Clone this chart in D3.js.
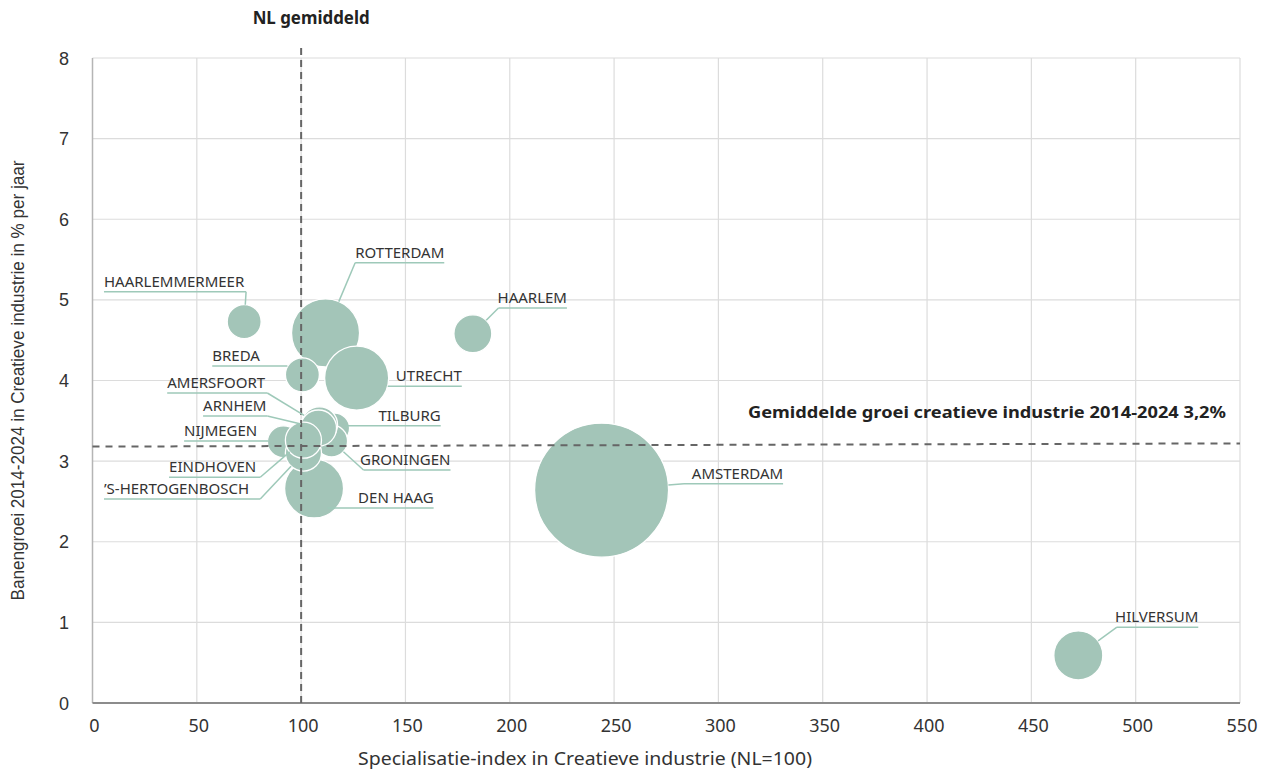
<!DOCTYPE html>
<html><head><meta charset="utf-8">
<script src="https://cdn.jsdelivr.net/npm/d3@7/dist/d3.min.js"></script>
<style>
html,body{margin:0;padding:0;background:#fff;}
svg{display:block;}
</style></head>
<body>
<svg id="chart" width="1263" height="770"></svg>
<script>
// ---- data ----
const cities = ["AMSTERDAM","ROTTERDAM","UTRECHT","DEN HAAG","HILVERSUM","HAARLEM","HAARLEMMERMEER","BREDA","TILBURG","GRONINGEN","AMERSFOORT","ARNHEM","NIJMEGEN","’S-HERTOGENBOSCH","EINDHOVEN"];
const specIndex = [244.0, 111.7, 126.6, 106.2, 472.5, 182.3, 72.7, 100.6, 116.0, 114.6, 108.8, 108.3, 91.5, 101.1, 101.1];
const growth    = [2.64, 4.59, 4.03, 2.66, 0.59, 4.58, 4.73, 4.07, 3.41, 3.25, 3.45, 3.41, 3.24, 3.10, 3.26];
const jobs      = [95000, 24500, 21700, 18400, 12700, 7600, 6100, 6100, 4800, 5400, 6900, 6900, 5400, 6900, 6900];
const xTicks = [0,50,100,150,200,250,300,350,400,450,500,550];
const yTicks = [0,1,2,3,4,5,6,7,8];
const nlAverage = 100;
const avgGrowthLine = [3.18, 3.22];   // start/end of dashed average line
const avgGrowthLabel = "Gemiddelde groei creatieve industrie 2014-2024 3,2%";
const nlLabel = "NL gemiddeld";
const xTitle = "Specialisatie-index in Creatieve industrie (NL=100)";
const yTitle = "Banengroei 2014-2024 in Creatieve industrie  in % per jaar";

// label layout (data units): underline from x1 to x2 at y; side = where the text sits
const labelLayout = {
  "HAARLEMMERMEER":   {x1:5.5,   x2:73.6,  y:5.10, side:"left"},
  "ROTTERDAM":        {x1:125.9, x2:168.6, y:5.46, side:"right"},
  "BREDA":            {x1:57.4,  x2:93.4,  y:4.18, side:"left"},
  "UTRECHT":          {x1:141.5, x2:177.0, y:3.93, side:"right"},
  "AMERSFOORT":       {x1:35.8,  x2:83.8,  y:3.845,side:"left"},
  "ARNHEM":           {x1:53.0,  x2:83.8,  y:3.56, side:"left"},
  "TILBURG":          {x1:121.3, x2:166.9, y:3.44, side:"right"},
  "NIJMEGEN":         {x1:43.9,  x2:84.3,  y:3.25, side:"left"},
  "GRONINGEN":        {x1:129.9, x2:171.6, y:2.89, side:"right"},
  "EINDHOVEN":        {x1:36.7,  x2:80.4,  y:2.80, side:"left"},
  "’S-HERTOGENBOSCH": {x1:5.5,   x2:80.4,  y:2.53, side:"left"},
  "DEN HAAG":         {x1:112.6, x2:163.5, y:2.42, side:"right"},
  "HAARLEM":          {x1:194.6, x2:227.4, y:4.90, side:"right"},
  "AMSTERDAM":        {x1:283.5, x2:331.0, y:2.72, side:"right"},
  "HILVERSUM":        {x1:491.0, x2:530.0, y:0.94, side:"right"}
};

// ---- layout ----
const svg = d3.select("#chart");
const W = 1263, H = 770;
const m = {left:92.5, top:58, right:W-1240, bottom:H-703};
const x = d3.scaleLinear().domain([0,550]).range([m.left, W - m.right]);
const y = d3.scaleLinear().domain([0,8]).range([H - m.bottom, m.top]);
const r = d3.scaleSqrt().domain([0, d3.max(jobs)]).range([0, 67]);

const fill = "#a3c5b8", leader = "#9ec9b9", txt = "#333";

// gridlines
svg.append("g").selectAll("line").data(xTicks.filter(d=>d>0)).join("line")
  .attr("x1", d=>x(d)).attr("x2", d=>x(d)).attr("y1", y(0)).attr("y2", y(8))
  .attr("stroke", "#dcdcdc").attr("stroke-width", 1.2);
svg.append("g").selectAll("line").data(yTicks.filter(d=>d>0)).join("line")
  .attr("x1", x(0)).attr("x2", x(550)).attr("y1", d=>y(d)).attr("y2", d=>y(d))
  .attr("stroke", "#dcdcdc").attr("stroke-width", 1.2);

// axes lines
svg.append("line").attr("x1", x(0)).attr("x2", x(0)).attr("y1", y(0)).attr("y2", y(8))
  .attr("stroke", "#b5b5b5").attr("stroke-width", 1.5);
svg.append("line").attr("x1", x(0)).attr("x2", x(550)).attr("y1", y(0)).attr("y2", y(0))
  .attr("stroke", "#8c8c8c").attr("stroke-width", 2);

// tick labels
svg.append("g").selectAll("text").data(xTicks).join("text")
  .attr("x", d=>x(d) + 2).attr("y", y(0) + 29)
  .attr("text-anchor", "middle").attr("fill", txt)
  .style("font", "18px 'Noto Sans', sans-serif").text(d=>d);
svg.append("g").selectAll("text").data(yTicks).join("text")
  .attr("x", 69).attr("y", d=>y(d) + 6.5)
  .attr("text-anchor", "end").attr("fill", txt)
  .style("font", "18px 'Liberation Sans', Arial, sans-serif").text(d=>d);

// axis titles
svg.append("text").attr("x", 585).attr("y", 765)
  .attr("text-anchor", "middle").attr("fill", txt)
  .attr("textLength", 454).attr("lengthAdjust", "spacingAndGlyphs")
  .style("font", "18.5px 'Noto Sans', sans-serif").text(xTitle);
svg.append("text").attr("transform", `translate(24,${(y(0)+y(8))/2}) rotate(-90)`)
  .attr("text-anchor", "middle").attr("fill", txt)
  .attr("textLength", 440).attr("lengthAdjust", "spacingAndGlyphs")
  .style("font", "17.5px 'Liberation Sans', Arial, sans-serif").text(yTitle);

// bubbles
const data = cities.map((c,i)=>({name:c, x:specIndex[i], y:growth[i], v:jobs[i]}));
svg.append("g").selectAll("circle").data(data).join("circle")
  .attr("cx", d=>x(d.x)).attr("cy", d=>y(d.y)).attr("r", d=>r(d.v))
  .attr("fill", fill).attr("stroke", "#fff").attr("stroke-width", 1.3);

// reference lines
svg.append("line").attr("x1", x(nlAverage)).attr("x2", x(nlAverage))
  .attr("y1", y(0)).attr("y2", 44)
  .attr("stroke", "#666").attr("stroke-width", 2).attr("stroke-dasharray", "7,5");
svg.append("line").attr("x1", x(0)).attr("x2", x(550))
  .attr("y1", y(avgGrowthLine[0])).attr("y2", y(avgGrowthLine[1]))
  .attr("stroke", "#666").attr("stroke-width", 2).attr("stroke-dasharray", "7,6");
svg.append("text").attr("x", x(nlAverage) + 10).attr("y", 24)
  .attr("text-anchor", "middle").attr("fill", "#222")
  .attr("textLength", 117).attr("lengthAdjust", "spacingAndGlyphs")
  .style("font", "bold 17px 'Noto Sans', sans-serif").text(nlLabel);
svg.append("text").attr("x", 748).attr("y", 418)
  .attr("text-anchor", "start").attr("fill", "#222")
  .attr("textLength", 478).attr("lengthAdjust", "spacingAndGlyphs")
  .style("font", "bold 16.5px 'Noto Sans', sans-serif").text(avgGrowthLabel);

// labels with leaders
const lg = svg.append("g");
data.forEach(d=>{
  const L = labelLayout[d.name]; if(!L) return;
  const ux1 = x(L.x1), ux2 = x(L.x2), uy = y(L.y);
  lg.append("line").attr("x1", ux1).attr("x2", ux2).attr("y1", uy).attr("y2", uy)
    .attr("stroke", leader).attr("stroke-width", 1.5);
  const sx = L.side === "left" ? ux2 : ux1;
  const cx = x(d.x), cy = y(d.y), rr = r(d.v);
  const dx = cx - sx, dy = cy - uy, dist = Math.hypot(dx, dy);
  if (dist > rr + 1) {
    const ex = cx - dx/dist*rr, ey = cy - dy/dist*rr;
    lg.append("line").attr("x1", sx).attr("y1", uy).attr("x2", ex).attr("y2", ey)
      .attr("stroke", leader).attr("stroke-width", 1.5);
  }
  lg.append("text")
    .attr("x", L.side === "left" ? ux1 : ux2).attr("y", uy - 5)
    .attr("text-anchor", L.side === "left" ? "start" : "end")
    .attr("fill", txt)
    .style("font", "15px 'Noto Sans', sans-serif").text(d.name);
});
</script>
</body></html>
